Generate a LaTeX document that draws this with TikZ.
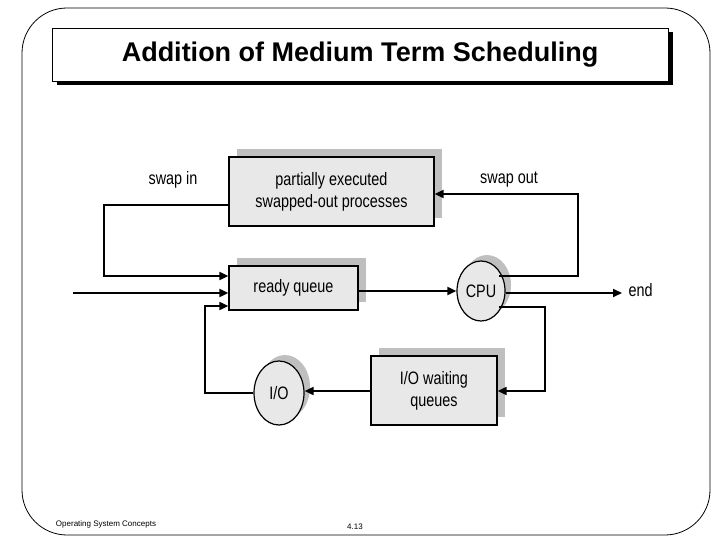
\documentclass[tikz,border=0pt]{standalone}
\usepackage{fontspec}
\setmainfont{Liberation Sans}
\newfontfamily\narrow[FakeStretch=0.8]{Liberation Sans}
\usetikzlibrary{arrows.meta,shapes.geometric}
\begin{document}
\begin{tikzpicture}[x=1pt,y=-1pt,
  box/.style={draw,line width=1.2pt,fill=gray!18,align=center,font=\narrow\fontsize{18}{22}\selectfont,inner sep=0pt},
  circ/.style={draw,line width=1.2pt,fill=gray!18,ellipse,inner sep=0pt,font=\narrow\fontsize{18}{22}\selectfont},
  shadow/.style={fill=gray!50},
  conn/.style={line width=1.8pt},
  arr/.style={conn,-{Triangle[length=9pt,width=8pt]}},
  lbl/.style={font=\narrow\fontsize{18}{22}\selectfont}]
\useasboundingbox (0,0) rectangle (720,540);
\fill[white] (0,0) rectangle (720,540);
\draw[line width=0.8pt,rounded corners=45pt] (22,8) rectangle (710,535);
% title
\fill[black] (57,32) rectangle (673,85);
\node[draw,line width=0.8pt,fill=white,minimum width=616pt,minimum height=53pt,inner sep=0pt,font=\bfseries\fontsize{27}{30}\selectfont] (title) at (360,55) {Addition of Medium Term Scheduling};
% shadows
\fill[shadow] (237,149) rectangle (442,218);
\fill[shadow] (237,258) rectangle (366,302);
\fill[shadow] (379,348) rectangle (505,417);
\fill[shadow] (487,285) ellipse (24pt and 30pt);
\fill[shadow] (285,387) ellipse (25pt and 32pt);
% nodes
\node[box,minimum width=205pt,minimum height=69pt] (sw) at (331.5,191.5) {partially executed\\swapped-out processes};
\node[box,minimum width=129pt,minimum height=44pt] (rq) at (293.5,288) {ready queue};
\node[box,minimum width=126pt,minimum height=69pt] (iow) at (434,390.5) {I/O waiting\\queues};
\node[circ,minimum width=48pt,minimum height=60pt] (cpu) at (481,291) {CPU};
\node[circ,minimum width=50pt,minimum height=64pt] (io) at (279,393) {I/O};
\coordinate (inp) at (73,293);
\coordinate (endp) at (622,293);
\node[lbl,anchor=west] (endl) at (625,290) {end};
\node[lbl] (swin) at (173,180) {swap in};
\node[lbl] (swout) at (509,180) {swap out};
% connectors
\draw[arr] (sw.west |- 0,205) -| (104,276) -- (rq.west |- 0,276);
\draw[arr] (inp) -- (rq.west |- inp);
\draw[arr] (io.west) -| (205,306) -- (rq.west |- 0,306);
\draw[arr] (rq.east |- 0,291) -- (cpu.west);
\draw[arr] (cpu.east |- 0,293) -- (endp);
\draw[arr] (499,276) -| (578,194) -- (sw.east |- 0,194);
\draw[arr] (499,307) -| (545,391) -- (iow.east |- 0,391);
\draw[arr] (iow.west |- 0,391) -- (io.east |- 0,391);
% footer
\node[font=\fontsize{8}{10}\selectfont] (f1) at (106,524) {Operating System Concepts};
\node[font=\fontsize{8}{10}\selectfont] (f2) at (355,527) {4.13};
\end{tikzpicture}
\end{document}
